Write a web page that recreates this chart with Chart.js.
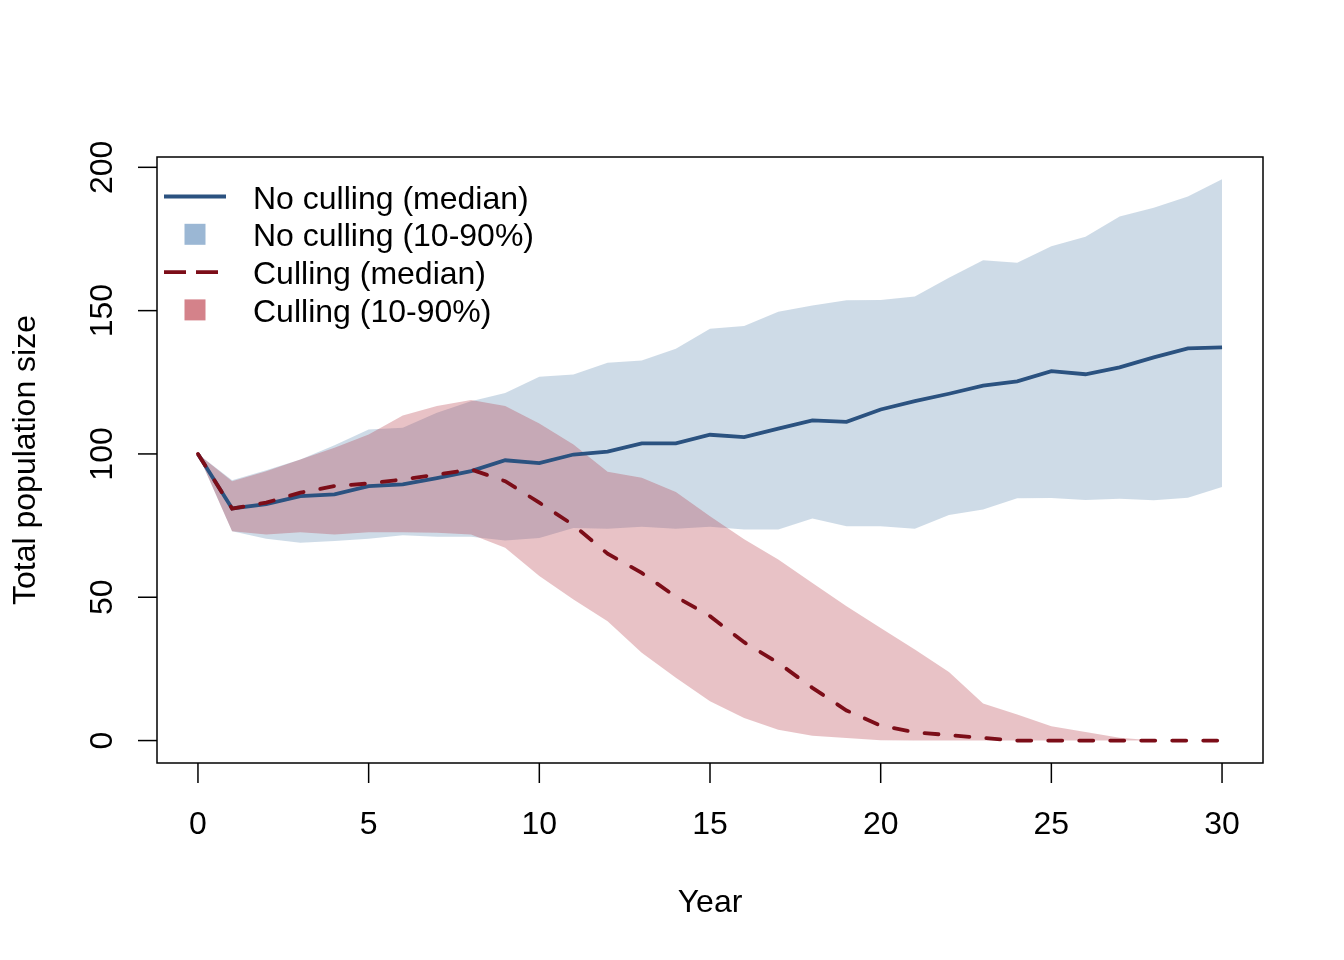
<!DOCTYPE html>
<html>
<head>
<meta charset="utf-8">
<script src="https://cdn.jsdelivr.net/npm/chart.js@4"></script>
<style>
  body { margin: 0; background: #fff; }
  canvas { display: block; }
</style>
</head>
<body>
<canvas id="popChart" width="1344" height="960"></canvas>
<script>
// Years 0..30
const years = [0,1,2,3,4,5,6,7,8,9,10,11,12,13,14,15,16,17,18,19,20,21,22,23,24,25,26,27,28,29,30];

// No culling
const noCullMedian = [100, 81, 82.5, 85.3, 85.9, 88.8, 89.4, 91.6, 94, 97.8, 96.8, 99.8, 100.8, 103.7, 103.7, 106.7, 105.9, 108.8, 111.7, 111.2, 115.5, 118.4, 121, 123.8, 125.3, 128.9, 127.8, 130.2, 133.7, 136.8, 137.2];
const noCullLow = [100, 73, 70.4, 69, 69.6, 70.4, 71.6, 71.1, 71.1, 69.8, 70.7, 74.2, 73.9, 74.6, 73.9, 74.6, 73.6, 73.6, 77.5, 74.8, 74.8, 73.9, 78.7, 80.6, 84.5, 84.6, 83.9, 84.4, 83.8, 84.7, 88.5];
const noCullHigh = [100, 90.8, 94.3, 98.1, 103, 108.5, 109.1, 114.4, 118.4, 121.3, 126.9, 127.7, 131.8, 132.6, 136.7, 143.7, 144.6, 149.6, 151.8, 153.6, 153.7, 154.9, 161.5, 167.6, 166.7, 172.5, 175.8, 182.8, 185.9, 189.8, 195.8];

// Culling
const cullMedian = [100, 80.9, 83, 86.5, 88.8, 89.7, 91.1, 92.8, 94.6, 90.5, 83, 75.2, 65.2, 58.5, 50.2, 43.4, 34.3, 27.1, 18.4, 10.5, 5.2, 2.9, 1.9, 0.9, 0, 0, 0, 0, 0, 0, 0];
const cullLow = [100, 73, 71.9, 72.7, 71.9, 72.7, 72.7, 72.5, 71.9, 67.3, 57.4, 49.2, 41.6, 30.6, 21.9, 13.7, 7.9, 3.8, 1.7, 0.9, 0.1, 0, 0, 0, 0, 0, 0, 0, 0, 0, 0];
const cullHigh = [100, 90.5, 94, 98.1, 102.2, 106.8, 113.4, 116.7, 118.8, 116.7, 110.6, 103.3, 93.8, 91.7, 86.7, 78.3, 70.2, 63.2, 55, 46.9, 39.3, 31.8, 23.9, 12.9, 9.1, 5, 3, 1, 0, 0, 0];

// Axis ticks
const xTicks = [0, 5, 10, 15, 20, 25, 30];
const yTicks = [0, 50, 100, 150, 200];

const legendItems = [
    { label: 'No culling (median)', type: 'line', color: '#2b5280', dash: [] },
    { label: 'No culling (10-90%)', type: 'box', color: '#9bb7d4' },
    { label: 'Culling (median)', type: 'line', color: '#7c0d18', dash: [22, 10] },
    { label: 'Culling (10-90%)', type: 'box', color: '#d4828a' }
];

const FONT = '32px "Liberation Sans", Arial, Helvetica, sans-serif';

function toPoints(values) {
    return years.map((y, i) => ({ x: y, y: values[i] }));
}

// R-style box, axes, labels and legend
const baseAxesPlugin = {
    id: 'baseAxes',
    afterDraw(chart) {
        const ctx = chart.ctx;
        const area = chart.chartArea;
        const xs = chart.scales.x;
        const ys = chart.scales.y;
        ctx.save();
        ctx.strokeStyle = '#000';
        ctx.fillStyle = '#000';
        ctx.lineWidth = 1.5;

        // plot box
        ctx.strokeRect(area.left, area.top, area.right - area.left, area.bottom - area.top);

        // x axis ticks + labels
        ctx.font = FONT;
        ctx.textAlign = 'center';
        ctx.textBaseline = 'alphabetic';
        xTicks.forEach(t => {
            const px = xs.getPixelForValue(t);
            ctx.beginPath();
            ctx.moveTo(px, area.bottom);
            ctx.lineTo(px, area.bottom + 20);
            ctx.stroke();
            ctx.fillText(String(t), px, 834);
        });

        // y axis ticks + rotated labels
        yTicks.forEach(t => {
            const py = ys.getPixelForValue(t);
            ctx.beginPath();
            ctx.moveTo(area.left, py);
            ctx.lineTo(area.left - 19, py);
            ctx.stroke();
            ctx.save();
            ctx.translate(112, py);
            ctx.rotate(-Math.PI / 2);
            ctx.fillText(String(t), 0, 0);
            ctx.restore();
        });

        // axis titles
        ctx.fillText('Year', (area.left + area.right) / 2, 912);
        ctx.save();
        ctx.translate(35, (area.top + area.bottom) / 2);
        ctx.rotate(-Math.PI / 2);
        ctx.fillText('Total population size', 0, 0);
        ctx.restore();

        // legend
        ctx.textAlign = 'left';
        legendItems.forEach((item, i) => {
            const base = 208.5 + 37.8 * i;
            const cy = base - 12;
            if (item.type === 'line') {
                ctx.save();
                ctx.strokeStyle = item.color;
                ctx.lineWidth = 3.8;
                ctx.lineCap = 'butt';
                ctx.setLineDash(item.dash);
                ctx.beginPath();
                ctx.moveTo(164, cy);
                ctx.lineTo(226, cy);
                ctx.stroke();
                ctx.restore();
            } else {
                ctx.fillStyle = item.color;
                ctx.fillRect(184.5, cy - 10.5, 21, 21);
            }
            ctx.fillStyle = '#000';
            ctx.fillText(item.label, 253, base);
        });

        ctx.restore();
    }
};

const ctx = document.getElementById('popChart').getContext('2d');
new Chart(ctx, {
    type: 'line',
    data: {
        datasets: [
            {
                label: 'No culling (median)',
                data: toPoints(noCullMedian),
                borderColor: '#2b5280',
                borderWidth: 3.8,
                pointRadius: 0,
                fill: false,
                order: 1
            },
            {
                label: 'Culling (median)',
                data: toPoints(cullMedian),
                borderColor: '#7c0d18',
                borderWidth: 3.8,
                borderDash: [14, 17],
                borderCapStyle: 'round',
                pointRadius: 0,
                fill: false,
                order: 0
            },
            {
                label: 'No culling low',
                data: toPoints(noCullLow),
                borderWidth: 0,
                borderColor: 'rgba(0,0,0,0)',
                pointRadius: 0,
                fill: false,
                order: 3
            },
            {
                label: 'No culling (10-90%)',
                data: toPoints(noCullHigh),
                borderWidth: 0,
                borderColor: 'rgba(0,0,0,0)',
                backgroundColor: 'rgba(92,135,175,0.3)',
                pointRadius: 0,
                fill: '-1',
                order: 3
            },
            {
                label: 'Culling low',
                data: toPoints(cullLow),
                borderWidth: 0,
                borderColor: 'rgba(0,0,0,0)',
                pointRadius: 0,
                fill: false,
                order: 2
            },
            {
                label: 'Culling (10-90%)',
                data: toPoints(cullHigh),
                borderWidth: 0,
                borderColor: 'rgba(0,0,0,0)',
                backgroundColor: 'rgba(178,52,65,0.3)',
                pointRadius: 0,
                fill: '-1',
                order: 2
            }
        ]
    },
    options: {
        responsive: false,
        animation: false,
        devicePixelRatio: 1,
        layout: { padding: { left: 157, top: 157, right: 81, bottom: 197 } },
        elements: { line: { tension: 0 } },
        scales: {
            x: { type: 'linear', min: -1.2, max: 31.2, display: false },
            y: { type: 'linear', min: -7.83, max: 203.6, display: false }
        },
        plugins: {
            legend: { display: false },
            tooltip: { enabled: false }
        }
    },
    plugins: [baseAxesPlugin]
});
</script>
</body>
</html>
